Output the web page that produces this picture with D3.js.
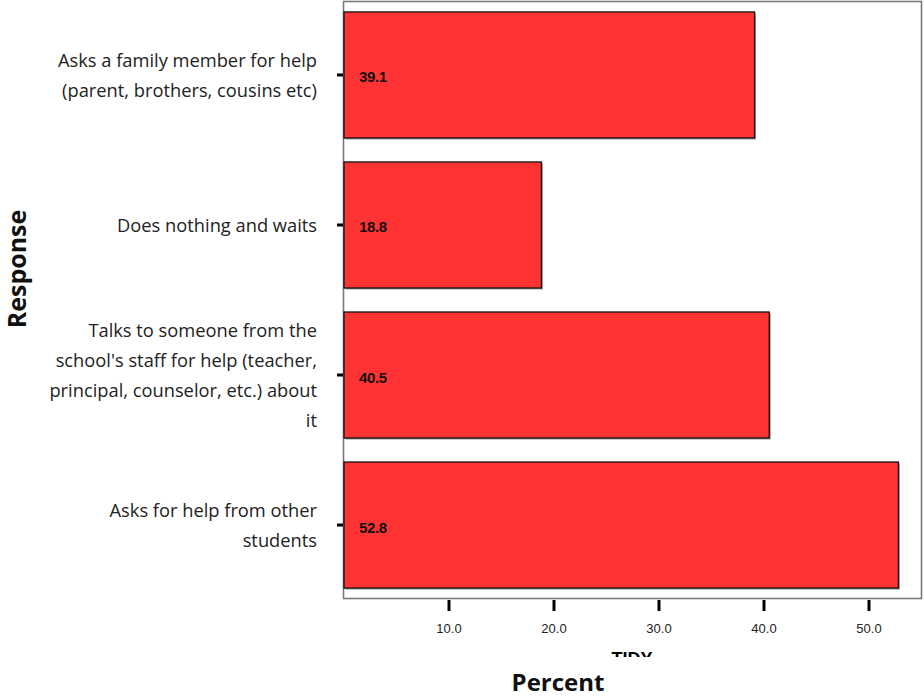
<!DOCTYPE html>
<html><head><meta charset="utf-8">
<script src="https://cdn.jsdelivr.net/npm/d3@7"></script>
<style>body{margin:0;background:#fff}svg{display:block}</style>
</head><body>
<svg id="c" width="924" height="698"></svg>
<script>
const categories = [
  ["Asks a family member for help", "(parent, brothers, cousins etc)"],
  ["Does nothing and waits"],
  ["Talks to someone from the", "school's staff for help (teacher,", "principal, counselor, etc.) about", "it"],
  ["Asks for help from other", "students"]
];
const values = [39.1, 18.8, 40.5, 52.8];
const xTicks = [10, 20, 30, 40, 50];

const svg = d3.select("#c");
const keys = categories.map((d, i) => "c" + i);
const x = d3.scaleLinear().domain([0, 55]).range([344, 921.5]);
const y = d3.scaleBand().domain(keys).range([1, 599]).paddingInner(0.16).paddingOuter(0.073);

// frame
svg.append("rect").attr("x", 343.5).attr("y", 1.5).attr("width", 578).attr("height", 597)
  .attr("fill", "#fff").attr("stroke", "#7a7a7a").attr("stroke-width", 1.6);

// bars with shadow
const g = svg.append("g");
g.selectAll("rect.sh").data(values).join("rect").attr("class", "sh")
  .attr("x", x(0) + 1.5).attr("y", (d, i) => y(keys[i]) + 1.5)
  .attr("width", d => x(d) - x(0)).attr("height", y.bandwidth())
  .attr("fill", "#9a9a9a");
g.selectAll("rect.b").data(values).join("rect").attr("class", "b")
  .attr("x", x(0)).attr("y", (d, i) => y(keys[i]))
  .attr("width", d => x(d) - x(0)).attr("height", y.bandwidth())
  .attr("fill", "#ff3333").attr("stroke", "#111").attr("stroke-width", 1.3);

// value labels
g.selectAll("text.v").data(values).join("text").attr("class", "v")
  .attr("x", 359).attr("y", (d, i) => y(keys[i]) + y.bandwidth() / 2 + 7.5)
  .attr("font-family", "Liberation Sans, Arial, sans-serif").attr("font-weight", "bold")
  .attr("font-size", 15).attr("letter-spacing", -0.4).attr("fill", "#111")
  .text(d => d.toFixed(1));

// y tick marks
g.selectAll("line.yt").data(keys).join("line").attr("class", "yt")
  .attr("x1", 337).attr("x2", 343)
  .attr("y1", d => y(d) + y.bandwidth() / 2).attr("y2", d => y(d) + y.bandwidth() / 2)
  .attr("stroke", "#000").attr("stroke-width", 3);

// category labels
const lh = 30;
const cl = svg.append("g");
categories.forEach((lines, i) => {
  const cy = y(keys[i]) + y.bandwidth() / 2;
  const t = cl.append("text").attr("text-anchor", "end")
    .attr("font-family", "Open Sans, sans-serif").attr("font-size", 18.3).attr("fill", "#222");
  lines.forEach((ln, j) => {
    t.append("tspan").attr("x", 317)
      .attr("y", cy + (j - (lines.length - 1) / 2) * lh + 7).text(ln);
  });
});

// x axis ticks
const xa = svg.append("g");
xa.selectAll("line").data(xTicks).join("line")
  .attr("x1", d => x(d)).attr("x2", d => x(d)).attr("y1", 600).attr("y2", 611)
  .attr("stroke", "#000").attr("stroke-width", 3);
xa.selectAll("text").data(xTicks).join("text")
  .attr("x", d => x(d)).attr("y", 633).attr("text-anchor", "middle")
  .attr("font-family", "Liberation Sans, Arial, sans-serif").attr("font-size", 13).attr("fill", "#222")
  .text(d => d.toFixed(1));

// clipped stray title
svg.append("clipPath").attr("id", "clipT").append("rect")
  .attr("x", 580).attr("y", 640).attr("width", 100).attr("height", 17);
svg.append("text").attr("clip-path", "url(#clipT)")
  .attr("x", 632).attr("y", 665).attr("text-anchor", "middle")
  .attr("font-family", "Liberation Sans, Arial, sans-serif").attr("font-weight", "bold")
  .attr("font-size", 18).attr("fill", "#000").text("TIDY");

// axis titles
svg.append("text").attr("x", 558).attr("y", 691).attr("text-anchor", "middle")
  .attr("font-family", "Open Sans, sans-serif").attr("font-weight", "bold")
  .attr("font-size", 24).attr("fill", "#111").text("Percent");
svg.append("text").attr("transform", "translate(26,269) rotate(-90)").attr("text-anchor", "middle")
  .attr("font-family", "Open Sans, sans-serif").attr("font-weight", "bold")
  .attr("font-size", 25).attr("fill", "#111").text("Response");
</script>
</body></html>
